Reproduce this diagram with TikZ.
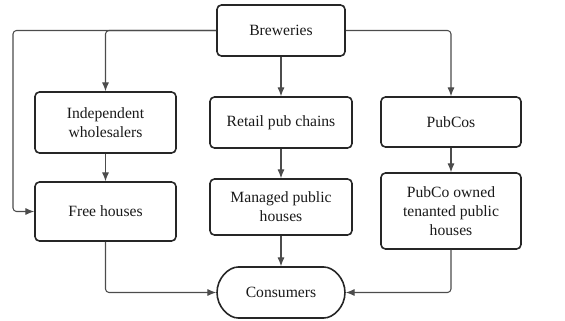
\documentclass[tikz,border=0pt]{standalone}
\usepackage{fontspec}
\setmainfont{LiberationSerif}[Extension=.ttf, UprightFont=*-Regular]
\usetikzlibrary{arrows.meta,shapes.misc}

\begin{document}
\begin{tikzpicture}[x=0.02cm,y=-0.02cm,
  box/.style={draw=black!85, line width=0.9pt, rounded corners=2.5pt, align=center,
    inner sep=0pt, text=black!90, font=\fontsize{8.9}{10.9}\selectfont},
  link/.style={draw=black!70, line width=0.6pt, rounded corners=2pt,
    -{Latex[length=5pt,width=4pt]}}]
\useasboundingbox (0,0) rectangle (565,321);
% boxes
\node[box, minimum width=2.56cm, minimum height=1.02cm] (brew) at (281,30.5) {Breweries};
\node[box, minimum width=2.82cm, minimum height=1.22cm] (indep) at (105.5,122.5) {Independent\\wholesalers};
\node[box, minimum width=2.84cm, minimum height=1.02cm] (retail) at (281,122.5) {Retail pub chains};
\node[box, minimum width=2.8cm, minimum height=1.0cm] (pubcos) at (451,122) {PubCos};
\node[box, minimum width=2.82cm, minimum height=1.18cm] (free) at (105.5,211.5) {Free houses};
\node[box, minimum width=2.84cm, minimum height=1.12cm] (managed) at (281,207) {Managed public\\houses};
\node[box, minimum width=2.8cm, minimum height=1.52cm] (owned) at (451,211) {PubCo owned\\tenanted public\\houses};
\node[box, rounded rectangle, minimum width=2.56cm, minimum height=1.02cm] (cons) at (281,292.5) {Consumers};
% connectors
\coordinate (lc) at (13,30.5);
\draw[link] (brew.west) -- (lc) |- (free.west);
\draw[link] (brew.west) -| (indep.north);
\draw[link] (brew.south) -- (retail.north);
\draw[link] (brew.east) -| (pubcos.north);
\draw[link] (indep.south) -- (free.north);
\draw[link] (retail.south) -- (managed.north);
\draw[link] (pubcos.south) -- (owned.north);
\draw[link] (managed.south) -- (cons.north);
\draw[link] (free.south) |- (cons.west);
\draw[link] (owned.south) |- (cons.east);
\end{tikzpicture}
\end{document}
